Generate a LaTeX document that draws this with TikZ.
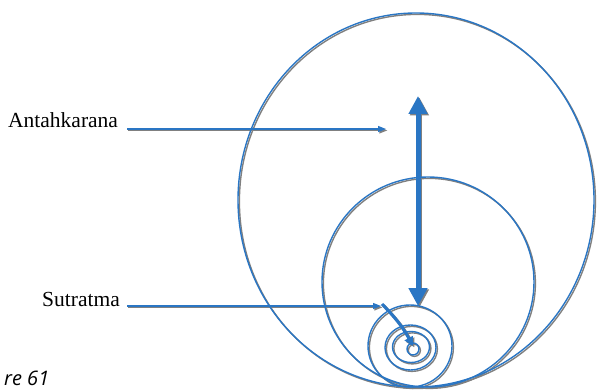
\documentclass[tikz,border=0pt]{standalone}
\usepackage{fontspec}
\setmainfont{Liberation Serif}
\newfontfamily\capfont{Open Sans}
\usetikzlibrary{arrows.meta,shapes.geometric}
\definecolor{diagblue}{RGB}{42,118,196}
\definecolor{shade}{RGB}{128,128,128}
\tikzset{
  ring/.style={ellipse, inner sep=0pt, draw=#1, line width=1.4pt},
  thinarrow/.style={draw=#1, line width=1.3pt, -{Triangle[length=8pt,width=6pt]}},
  bigarrow/.style={draw=#1, line width=5pt, {Triangle[length=18pt,width=18pt]}-{Triangle[length=18pt,width=18pt]}},
  midarrow/.style={draw=#1, line width=3pt, -{Triangle[length=9pt,width=9pt]}},
  label/.style={font=\fontsize{21.5}{25}\selectfont, text=black, inner sep=0pt, anchor=base west}
}
\newcommand{\figshapes}[2]{%
  \node[ring=#1, minimum width=356pt, minimum height=374pt] (big#2) at (416,200) {};
  \node[ring=#1, minimum width=212pt, minimum height=210pt] (mid#2) at (428,282) {};
  \node[ring=#1, minimum width=84pt, minimum height=82pt] (sa#2) at (410,346) {};
  \node[ring=#1, minimum width=51pt, minimum height=45pt] (sb#2) at (410.5,347.5) {};
  \node[ring=#1, minimum width=37pt, minimum height=31pt] (sc#2) at (411,347) {};
  \node[ring=#1, minimum width=12pt, minimum height=12pt] (sd#2) at (413,349) {};
  \draw[bigarrow=#1] (top#2) -- (bot#2);
  \draw[midarrow=#1] (dstart#2) to[bend left=8] (dend#2);
  \draw[thinarrow=#1] (antline#2) -- (anttip#2);
  \draw[thinarrow=#1] (sutline#2) -- (suttip#2);
}
\begin{document}
\begin{tikzpicture}[x=1pt,y=-1pt]
\useasboundingbox (0,0) rectangle (597,390);
% shadow layer
\begin{scope}[shift={(1.4,1.4)}]
  \coordinate (tops) at (418,96);
  \coordinate (bots) at (418,306);
  \coordinate (dstarts) at (382,304);
  \coordinate (dends) at (413,346);
  \coordinate (antlines) at (127,129);
  \coordinate (anttips) at (386,129);
  \coordinate (sutlines) at (127,306);
  \coordinate (suttips) at (381,306);
  \figshapes{shade}{s}
\end{scope}
\coordinate (top) at (418,96);
\coordinate (bot) at (418,306);
\coordinate (dstart) at (382,304);
\coordinate (dend) at (413,346);
\coordinate (antline) at (127,129);
\coordinate (anttip) at (386,129);
\coordinate (sutline) at (127,306);
\coordinate (suttip) at (381,306);
\figshapes{diagblue}{}
\node[label] (ant) at (8,128) {Antahkarana};
\node[label] (sut) at (42,306) {Sutratma};
\node[font=\capfont\itshape\fontsize{20}{24}\selectfont, inner sep=0pt, anchor=base west] (fig) at (4,385) {re 61};
\end{tikzpicture}
\end{document}
